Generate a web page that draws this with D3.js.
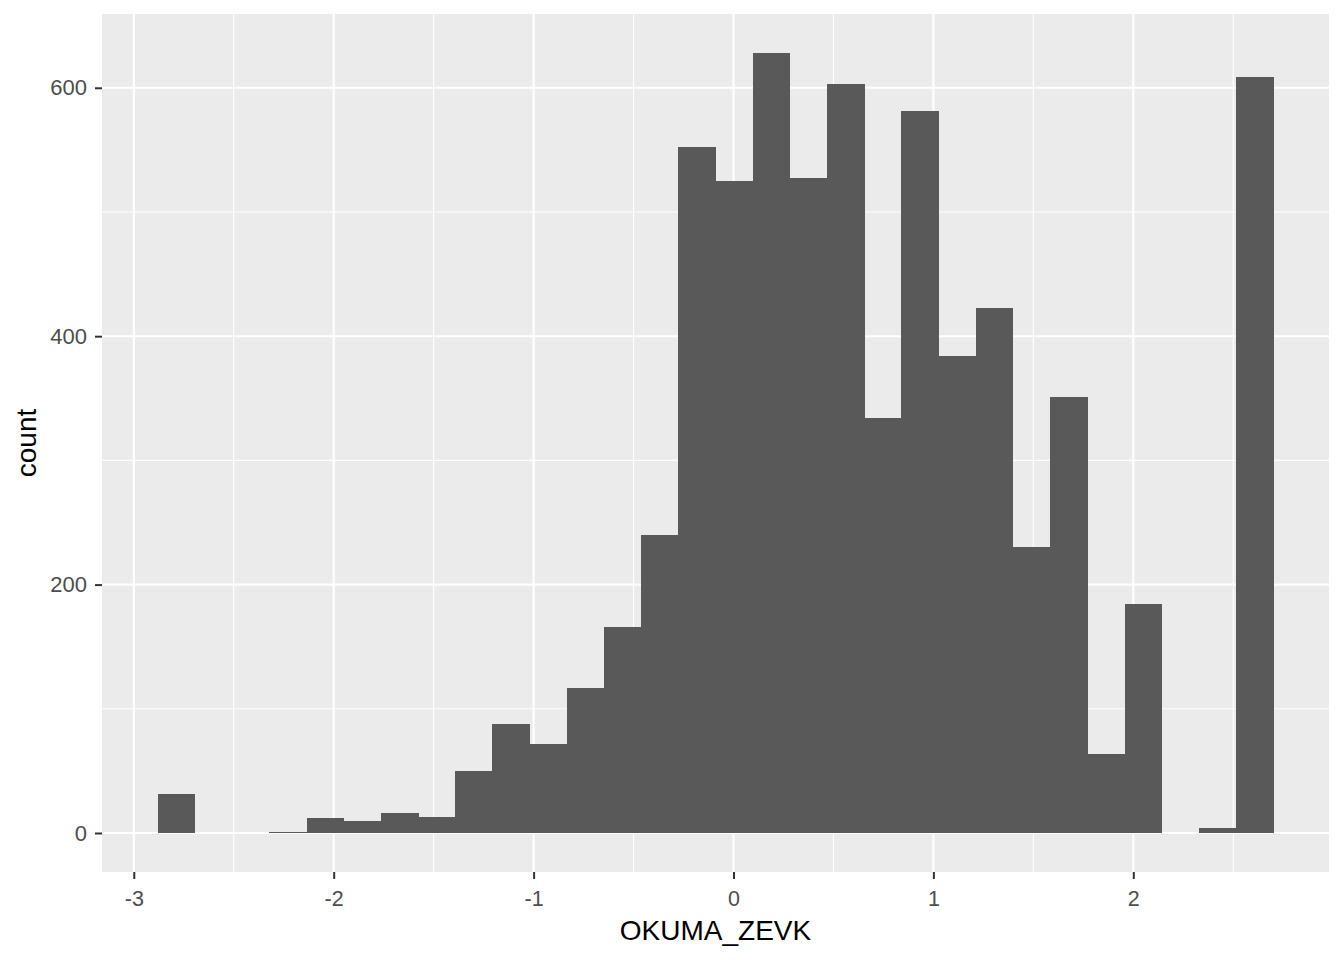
<!DOCTYPE html>
<html>
<head>
<meta charset="utf-8">
<script src="https://cdn.jsdelivr.net/npm/d3@7"></script>
<style>
  html, body { margin: 0; padding: 0; background: #ffffff; }
  svg { display: block; }
</style>
</head>
<body>
<svg id="chart" width="1344" height="960"></svg>
<script>
// Histogram bins (OKUMA_ZEVK), 30 bins
const binStart = -2.88;
const binWidth = 0.186;
const counts = [31, 0, 0, 1, 12, 10, 16, 13, 50, 88, 72, 117, 166, 240, 552, 525, 628, 527, 603, 334, 581, 384, 423, 230, 351, 64, 184, 0, 4, 609];
const xTicks = [-3, -2, -1, 0, 1, 2];
const yTicks = [0, 200, 400, 600];
const xTitle = "OKUMA_ZEVK";
const yTitle = "count";

const bins = counts.map((c, i) => ({ x0: binStart + i * binWidth, x1: binStart + (i + 1) * binWidth, count: c }));

const svg = d3.select("#chart");
const panel = { left: 102, right: 1329, top: 14, bottom: 872 };
const FONT = "'Liberation Sans', Arial, sans-serif";

const xMin = bins[0].x0, xMax = bins[bins.length - 1].x1;
const xPad = (xMax - xMin) * 0.05;
const x = d3.scaleLinear().domain([xMin - xPad, xMax + xPad]).range([panel.left, panel.right]);
const yMax = d3.max(counts);
const y = d3.scaleLinear().domain([-yMax * 0.05, yMax * 1.05]).range([panel.bottom, panel.top]);

// panel background
svg.append("rect")
  .attr("x", panel.left).attr("y", panel.top)
  .attr("width", panel.right - panel.left).attr("height", panel.bottom - panel.top)
  .attr("fill", "#EBEBEB");

// minor grid
const xMinor = xTicks.map(v => v + 0.5);
const yMinor = yTicks.slice(0, -1).map(v => v + 100);
const grid = svg.append("g");
xMinor.filter(v => x(v) > panel.left && x(v) < panel.right).forEach(v => {
  grid.append("line").attr("x1", x(v)).attr("x2", x(v)).attr("y1", panel.top).attr("y2", panel.bottom)
    .attr("stroke", "#ffffff").attr("stroke-width", 1.1);
});
yMinor.forEach(v => {
  grid.append("line").attr("y1", y(v)).attr("y2", y(v)).attr("x1", panel.left).attr("x2", panel.right)
    .attr("stroke", "#ffffff").attr("stroke-width", 1.1);
});
// major grid
xTicks.forEach(v => {
  grid.append("line").attr("x1", x(v)).attr("x2", x(v)).attr("y1", panel.top).attr("y2", panel.bottom)
    .attr("stroke", "#ffffff").attr("stroke-width", 2.1);
});
yTicks.forEach(v => {
  grid.append("line").attr("y1", y(v)).attr("y2", y(v)).attr("x1", panel.left).attr("x2", panel.right)
    .attr("stroke", "#ffffff").attr("stroke-width", 2.1);
});

// bars
svg.append("g").attr("shape-rendering", "crispEdges")
  .selectAll("rect").data(bins.filter(d => d.count > 0)).join("rect")
  .attr("x", d => x(d.x0))
  .attr("width", d => x(d.x1) - x(d.x0) + 0.5)
  .attr("y", d => y(d.count))
  .attr("height", d => y(0) - y(d.count))
  .attr("fill", "#595959");

// axes
const xAxis = d3.axisBottom(x).tickValues(xTicks).tickSize(7).tickPadding(12);
const gx = svg.append("g").attr("transform", `translate(0,${panel.bottom})`).call(xAxis);
gx.select(".domain").remove();
gx.selectAll(".tick line").attr("stroke", "#333333").attr("stroke-width", 2);
gx.selectAll(".tick text").attr("fill", "#4D4D4D").style("font-family", FONT).style("font-size", "21.5px")
  .text(d => d < 0 ? "-" + Math.abs(d) : String(d));

const yAxis = d3.axisLeft(y).tickValues(yTicks).tickSize(7).tickPadding(8);
const gy = svg.append("g").attr("transform", `translate(${panel.left},0)`).call(yAxis);
gy.select(".domain").remove();
gy.selectAll(".tick line").attr("stroke", "#333333").attr("stroke-width", 2);
gy.selectAll(".tick text").attr("fill", "#4D4D4D").style("font-family", FONT).style("font-size", "22px");

// titles
svg.append("text").attr("x", (panel.left + panel.right) / 2).attr("y", 940)
  .attr("text-anchor", "middle").attr("fill", "#000000")
  .style("font-family", FONT).style("font-size", "28px").text(xTitle);
svg.append("text").attr("transform", `translate(36,${(panel.top + panel.bottom) / 2}) rotate(-90)`)
  .attr("text-anchor", "middle").attr("fill", "#000000")
  .style("font-family", FONT).style("font-size", "28px").text(yTitle);
</script>
</body>
</html>
